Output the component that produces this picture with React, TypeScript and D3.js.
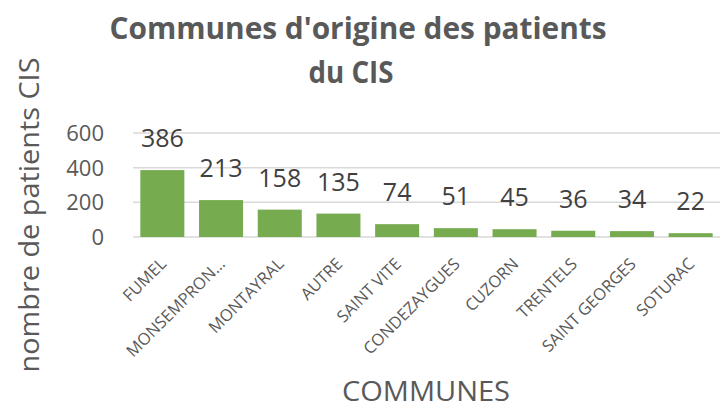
import React from "react";
import * as d3 from "d3";

const categories = ["FUMEL", "MONSEMPRON…", "MONTAYRAL", "AUTRE", "SAINT VITE", "CONDEZAYGUES", "CUZORN", "TRENTELS", "SAINT GEORGES", "SOTURAC"];
const values = [386, 213, 158, 135, 74, 51, 45, 36, 34, 22];
const yTicks = [0, 200, 400, 600];

const W = 727, H = 408;
const font = "'Open Sans', 'Noto Sans', sans-serif";

export default function App() {
  const x = d3.scaleBand<string>().domain(categories).range([133, 720]).paddingInner(0.25).paddingOuter(0.125);
  const y = d3.scaleLinear().domain([0, 600]).range([237, 133]);
  return (
    <svg width={W} height={H} style={{ position: "absolute", left: 0, top: 0, background: "#fff" }} fontFamily={font}>
      <text x={358} y={39} textAnchor="middle" fontSize={31} fontWeight="bold" fill="#595959" textLength={497} lengthAdjust="spacingAndGlyphs">Communes d'origine des patients</text>
      <text x={351} y={83} textAnchor="middle" fontSize={31} fontWeight="bold" fill="#595959" textLength={85} lengthAdjust="spacingAndGlyphs">du CIS</text>
      {yTicks.map(t => (
        <g key={t}>
          <line x1={133} x2={720} y1={y(t)} y2={y(t)} stroke="#D9D9D9" strokeWidth={1.5} />
          <text x={104} y={y(t)} dy="0.36em" textAnchor="end" fontSize={22} fill="#595959">{t}</text>
        </g>
      ))}
      {categories.map((c, i) => {
        const bx = x(c)!, bw = x.bandwidth();
        return (
          <g key={c}>
            <rect x={bx} y={y(values[i])} width={bw} height={y(0) - y(values[i])} fill="#77AB50" />
            <text x={bx + bw / 2} y={y(values[i]) - 23} textAnchor="middle" fontSize={25} fill="#404040">{values[i]}</text>
            <text transform={`translate(${bx + bw / 2 + 5},${265}) rotate(-45)`} textAnchor="end" fontSize={16.5} fill="#595959">{c}</text>
          </g>
        );
      })}
      <text transform={`translate(39,215) rotate(-90)`} textAnchor="middle" fontSize={27} fill="#595959" textLength={315} lengthAdjust="spacingAndGlyphs">nombre de patients CIS</text>
      <text x={426} y={401} textAnchor="middle" fontSize={28} fill="#595959" textLength={168} lengthAdjust="spacingAndGlyphs">COMMUNES</text>
    </svg>
  );
}
